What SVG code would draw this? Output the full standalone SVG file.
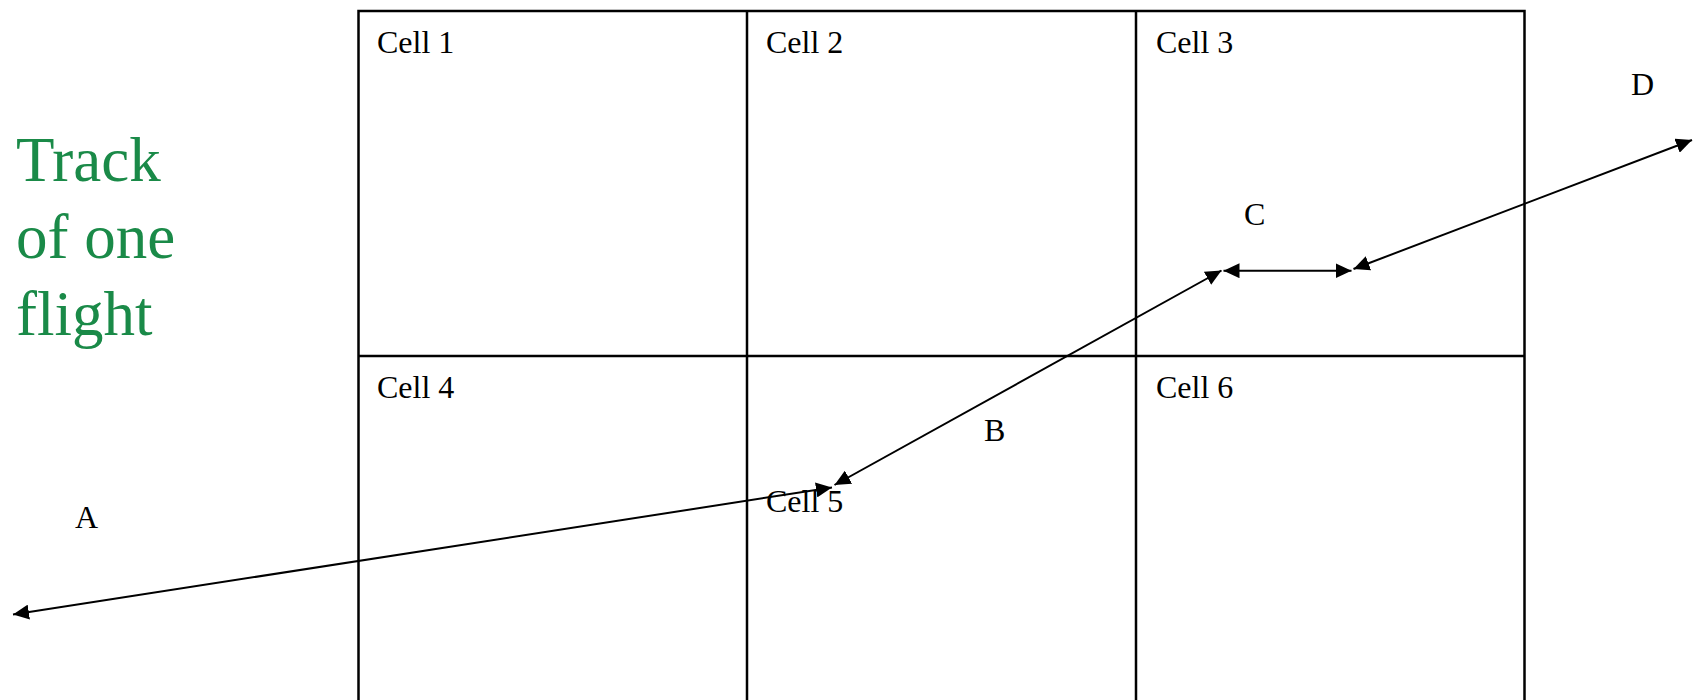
<svg xmlns="http://www.w3.org/2000/svg" width="1693" height="700" viewBox="0 0 1693 700">
<style>
.grid{fill:none;stroke:#000;stroke-width:2.5}
.lbl{font-family:"Liberation Serif","Times New Roman",serif;font-size:32px;fill:#000}
.title{font-family:"Liberation Serif","Times New Roman",serif;font-size:63px;fill:#1a8a48}
.trk{fill:none;stroke:#000;stroke-width:2;marker-start:url(#ah);marker-end:url(#ah)}
</style>
<defs>
<marker id="ah" markerUnits="userSpaceOnUse" markerWidth="17" markerHeight="15" refX="16" refY="7.5" orient="auto-start-reverse">
<path d="M0,0 L16,7.5 L0,15 z" fill="#000"/>
</marker>
</defs>
<rect width="1693" height="700" fill="#fff"/>
<g id="title">
<text class="title" x="16" y="181">Track</text>
<text class="title" x="16" y="258">of one</text>
<text class="title" x="16" y="335">flight</text>
</g>
<g id="grid">
<path class="grid" d="M358.5,705 V11 H1524.5 V705 M747,11 V705 M1136,11 V705 M358.5,356 H1524.5"/>
</g>
<g id="cell1"><text class="lbl" x="377" y="53">Cell 1</text></g>
<g id="cell2"><text class="lbl" x="766" y="53">Cell 2</text></g>
<g id="cell3"><text class="lbl" x="1156" y="53">Cell 3</text></g>
<g id="cell4"><text class="lbl" x="377" y="398">Cell 4</text></g>
<g id="cell5"><text class="lbl" x="766" y="512">Cell 5</text></g>
<g id="cell6"><text class="lbl" x="1156" y="398">Cell 6</text></g>
<g id="connectors">
<line class="trk" x1="832" y1="487.5" x2="13" y2="614.5"/>
<line class="trk" x1="1221.5" y1="270.5" x2="834.5" y2="485"/>
<line class="trk" x1="1223.5" y1="270.7" x2="1351.5" y2="270.7"/>
<line class="trk" x1="1353.5" y1="269" x2="1692" y2="140"/>
</g>
<g id="labels">
<text class="lbl" x="75" y="528">A</text>
<text class="lbl" x="984" y="441">B</text>
<text class="lbl" x="1244" y="225">C</text>
<text class="lbl" x="1631" y="95">D</text>
</g>
</svg>
